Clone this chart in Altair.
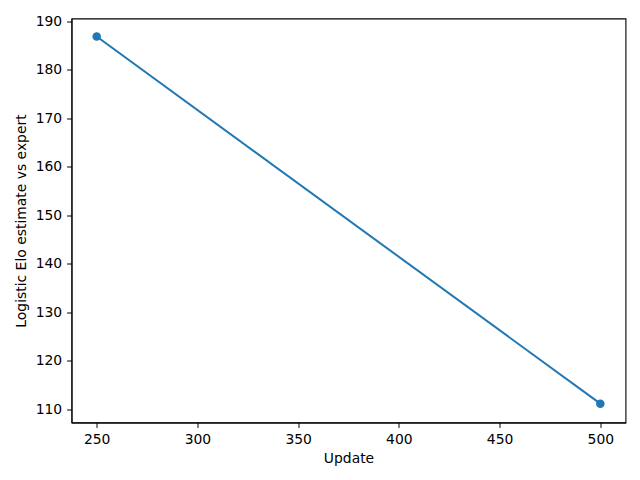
import altair as alt
import pandas as pd

updates = [250, 500]
elo = [186.8, 111.2]

df = pd.DataFrame({"Update": updates, "Elo": elo})

FONT = "DejaVu Sans"
FS = 13.9

x = alt.X("Update:Q", title="Update",
          scale=alt.Scale(domain=[237.5, 512.5], nice=False, zero=False),
          axis=alt.Axis(values=[250, 300, 350, 400, 450, 500], grid=False,
                        tickSize=4.9, labelPadding=4.9, titlePadding=5,
                        domainColor="black", tickColor="black",
                        labelColor="black", titleColor="black",
                        labelFont=FONT, titleFont=FONT, labelFontSize=FS, titleFontSize=FS,
                        titleFontWeight="normal", labelFlush=False))
y = alt.Y("Elo:Q", title="Logistic Elo estimate vs expert",
          scale=alt.Scale(domain=[107.32, 190.52], nice=False, zero=False),
          axis=alt.Axis(values=[110, 120, 130, 140, 150, 160, 170, 180, 190], grid=False,
                        tickSize=4.9, labelPadding=4.9, titlePadding=7,
                        domainColor="black", tickColor="black",
                        labelColor="black", titleColor="black",
                        labelFont=FONT, titleFont=FONT, labelFontSize=FS, titleFontSize=FS,
                        titleFontWeight="normal", labelFlush=False))

base = alt.Chart(df).encode(x=x, y=y)
line = base.mark_line(color="#1f77b4", strokeWidth=2)
pts = base.mark_point(color="#1f77b4", filled=True, opacity=1, size=72, shape="circle")

chart = (line + pts).properties(
    width=554, height=404,
    autosize=alt.AutoSizeParams(type="none"),
    padding={"left": 63.5, "top": 10.5, "right": 6, "bottom": 50},
    background="white",
).configure_view(stroke="black", strokeWidth=1.1)

chart.save("out.html", embed_options={"renderer": "svg", "actions": False})
